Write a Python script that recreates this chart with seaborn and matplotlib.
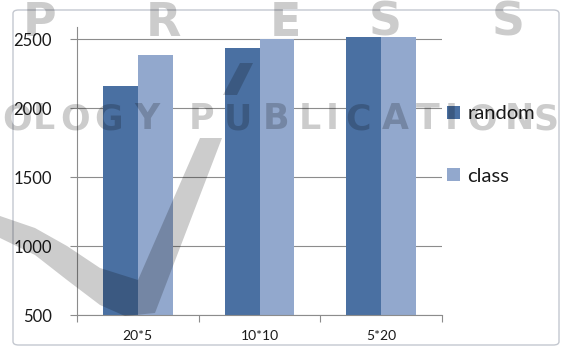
import matplotlib
matplotlib.use("Agg")
import matplotlib.pyplot as plt
from matplotlib.patches import Patch, Polygon, FancyBboxPatch
import seaborn as sns
import pandas as pd

# Data
grids = ["20*5", "10*10", "5*20"]
random_vals = [2160, 2440, 2520]
class_vals = [2385, 2500, 2520]
series_names = ["random", "class"]
y_ticks = [500, 1000, 1500, 2000, 2500]

colors = ["#4a70a2", "#92a8cd"]

df = pd.DataFrame({
    "grid": grids * 2,
    "value": random_vals + class_vals,
    "method": [series_names[0]] * len(grids) + [series_names[1]] * len(grids),
})

sns.set_style("white")
plt.rcParams["font.family"] = ["Lato", "DejaVu Sans"]

W, H = 562, 347
fig = plt.figure(figsize=(W / 100, H / 100), dpi=100)
fig.patch.set_facecolor("white")


def fx(x):
    return x / W


def fy(y):
    return 1 - y / H


ax = fig.add_axes([fx(77), fy(315), (442 - 77) / W, (315 - 27) / H])
ax.set_facecolor("white")

sns.barplot(data=df, x="grid", y="value", hue="method", order=grids,
            hue_order=series_names, palette=colors, width=0.574, gap=0,
            saturation=1, linewidth=0, legend=False, ax=ax)

ax.set_xlim(-0.5, 2.5)
ax.set_ylim(500, 2590)
ax.set_yticks(y_ticks)
ax.set_yticklabels([str(v) for v in y_ticks])
ax.set_xlabel("")
ax.set_ylabel("")

grid_c = "#8c8c8c"
ax.yaxis.grid(True, color=grid_c, linewidth=0.8)
ax.xaxis.grid(False)
ax.set_axisbelow(True)

for s in ["top", "right"]:
    ax.spines[s].set_visible(False)
for s in ["left", "bottom"]:
    ax.spines[s].set_color(grid_c)
    ax.spines[s].set_linewidth(0.8)

ax.tick_params(axis="y", which="major", length=5, width=0.8, color=grid_c,
               direction="out", left=True, labelsize=12, pad=13,
               labelcolor="#1a1a1a")
ax.tick_params(axis="x", which="major", length=0, labelsize=10, pad=11,
               labelcolor="#1a1a1a")
ax.set_xticks([-0.5, 0.5, 1.5, 2.5], minor=True)
ax.tick_params(axis="x", which="minor", length=5, width=0.8, color=grid_c,
               direction="out", bottom=True)

# Legend on the right
handles = [Patch(facecolor=c, edgecolor="none") for c in colors]
fig.legend(handles, series_names, loc="center left",
           bbox_to_anchor=(fx(447), fy(145)), frameon=False, fontsize=14.5,
           handlelength=0.65, handleheight=0.65, handletextpad=0.35,
           labelspacing=2.25, borderpad=0, borderaxespad=0,
           labelcolor="#1a1a1a")

# Chart frame
frame = FancyBboxPatch((fx(13), fy(345)), fx(559) - fx(13), fy(10) - fy(345),
                       boxstyle="round,pad=0,rounding_size=0.01",
                       transform=fig.transFigure, facecolor="none",
                       edgecolor="#c4c8d0", linewidth=1.0, zorder=1)
fig.patches.append(frame)

# Publisher watermark
wm = dict(color="black", alpha=0.2, fontweight="bold",
          family="DejaVu Sans", ha="center", va="baseline", zorder=10)
for ch, cx in zip("PRESS", [40, 163, 285, 385, 508]):
    fig.text(fx(cx), fy(36), ch, fontsize=33, **wm)
row = [("O", 17), ("L", 44), ("O", 75), ("G", 109), ("Y", 147),
       ("P", 201), ("U", 238), ("B", 276), ("L", 310), ("I", 332),
       ("C", 358), ("A", 395), ("T", 428), ("I", 451), ("O", 482),
       ("N", 519), ("S", 546)]
for ch, cx in row:
    fig.text(fx(cx), fy(129), ch, fontsize=25, **wm)

v_shape = [(-20, 210), (0, 216), (35, 228), (67, 246), (100, 268), (138, 280),
           (200, 138), (222, 138), (155, 313), (125, 316), (100, 305),
           (67, 280), (35, 255), (0, 238), (-20, 230)]
stroke = [(223, 95), (237, 95), (253, 63), (240, 63)]
for pts in (v_shape, stroke):
    fig.patches.append(Polygon([(fx(x), fy(y)) for x, y in pts], closed=True,
                               transform=fig.transFigure, facecolor="black",
                               edgecolor="none", alpha=0.2, zorder=10))

fig.savefig("out.png", dpi=100, facecolor="white")
